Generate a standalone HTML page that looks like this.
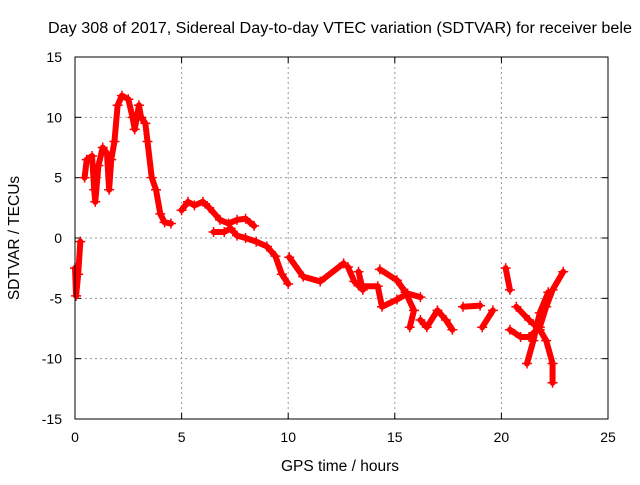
<!DOCTYPE html>
<html><head><meta charset="utf-8"><style>
body{margin:0;background:#fff}
text{font-family:"Liberation Sans",sans-serif;font-size:14px;fill:#000}
</style></head><body>
<svg id="chart" width="640" height="480" viewBox="0 0 640 480">
<text x="48" y="33" style="font-size:15.5px" textLength="584" lengthAdjust="spacingAndGlyphs">Day 308 of 2017, Sidereal Day-to-day VTEC variation (SDTVAR) for receiver bele</text>
<text x="340" y="471" text-anchor="middle" style="font-size:15.5px">GPS time / hours</text>
<text transform="translate(19,238) rotate(-90)" text-anchor="middle" style="font-size:15.5px">SDTVAR / TECUs</text>
<g id="grid"></g><g id="series"></g>
<rect x="75" y="57" width="533" height="362" fill="none" stroke="#000" stroke-width="1"/>
</svg>
<script>
const xTicks=[0,5,10,15,20,25];
const yTicks=[-15,-10,-5,0,5,10,15];
const segA=[[0,-2.5],[0.05,-4.8],[0.15,-3],[0.25,-0.3]];
const segB=[[0.45,5],[0.55,6.5],[0.8,6.8],[0.9,4],[0.95,3],[1.1,6],[1.3,7.5],[1.5,7],[1.6,4],[1.7,6.5],[1.85,8],[2.0,11],[2.2,11.8],[2.5,11.5],[2.7,10],[2.8,9],[3.0,11],[3.1,10],[3.3,9.5],[3.4,8],[3.6,5],[3.8,4],[4.0,2],[4.2,1.3],[4.5,1.2]];
const segC=[[5.0,2.3],[5.3,3],[5.6,2.7],[6.0,3],[6.3,2.5],[6.8,1.5],[7.2,1.2],[7.6,1.5],[8.0,1.6],[8.4,1]];
const segD=[[6.5,0.5],[7.0,0.5],[7.3,0.8],[7.6,0.2],[8.0,0],[8.5,-0.3],[9.0,-0.7],[9.4,-1.5],[9.7,-3],[10,-3.8]];
const segE=[[10.05,-1.6],[10.7,-3.2],[11.5,-3.6],[12.6,-2.1]];
const segF=[[12.8,-2.4],[13.1,-3.6],[13.5,-4.3],[13.3,-2.8]];
const segG=[[13.5,-4],[14.2,-4],[14.4,-5.7],[15.1,-5.1],[15.6,-4.6],[16.2,-4.9]];
const segH=[[14.3,-2.6],[15.1,-3.5],[15.5,-4.5],[15.9,-6],[15.7,-7.4]];
const segI=[[16.2,-6.8],[16.5,-7.4],[17,-6],[17.4,-6.8],[17.7,-7.6]];
const segJ=[[18.2,-5.7],[19,-5.6]];
const segK=[[19.1,-7.4],[19.6,-6]];
const segL=[[20.2,-2.5],[20.4,-4.3]];
const segM=[[20.4,-7.6],[20.9,-8.2],[21.3,-8.2],[21.8,-7.4],[22.1,-5.7],[22.4,-4.3],[22.9,-2.8]];
const segN=[[20.7,-5.7],[21.3,-6.8],[21.8,-7.6],[22.1,-8.5],[22.4,-10.4],[22.4,-12]];
const segO=[[22.2,-4.5],[21.8,-6.2],[21.5,-8.5],[21.2,-10.4]];
const series=[segA,segB,segC,segD,segE,segF,segG,segH,segI,segJ,segK,segL,segM,segN,segO];
const NS="http://www.w3.org/2000/svg";
const X=h=>75+h*533/25, Y=v=>238-v*362/30;
const grid=document.getElementById('grid'), ser=document.getElementById('series');
function mk(tag,attrs,parent){const e=document.createElementNS(NS,tag);for(const k in attrs)e.setAttribute(k,attrs[k]);parent.appendChild(e);return e;}
xTicks.forEach(t=>{
 const x=X(t);
 if(t>0&&t<25){const l=mk('line',{x1:x,x2:x,y1:57,y2:419,stroke:'#999','stroke-dasharray':'2,3'},grid);
 
 }
 const tx=mk('text',{x:x,y:442,'text-anchor':'middle'},grid);tx.textContent=t;
 
 
 mk('line',{x1:x,x2:x,y1:419,y2:413,stroke:'#000'},grid);
 mk('line',{x1:x,x2:x,y1:57,y2:63,stroke:'#000'},grid);
});
yTicks.forEach(t=>{
 const y=Y(t);
 if(t>-15&&t<15){const l=mk('line',{x1:75,x2:608,y1:y,y2:y,stroke:'#999','stroke-dasharray':'2,3'},grid);
 
 }
 const tx=mk('text',{x:62,y:y+5,'text-anchor':'end'},grid);tx.textContent=t;
 
 
 mk('line',{x1:75,x2:81,y1:y,y2:y,stroke:'#000'},grid);
 mk('line',{x1:608,x2:602,y1:y,y2:y,stroke:'#000'},grid);
});
series.forEach(seg=>{
 const pl=mk('polyline',{points:seg.map(p=>X(p[0])+','+Y(p[1])).join(' '),fill:'none',stroke:'#f00','stroke-width':6,'stroke-linejoin':'round','stroke-linecap':'round'},ser);
 
 
 seg.forEach(p=>{const x=X(p[0]),y=Y(p[1]);
  const m=mk('path',{d:`M${x-5},${y}h10M${x},${y-5}v10`,stroke:'#f00','stroke-width':1.5},ser);
  
  });
});
</script>
</body></html>
